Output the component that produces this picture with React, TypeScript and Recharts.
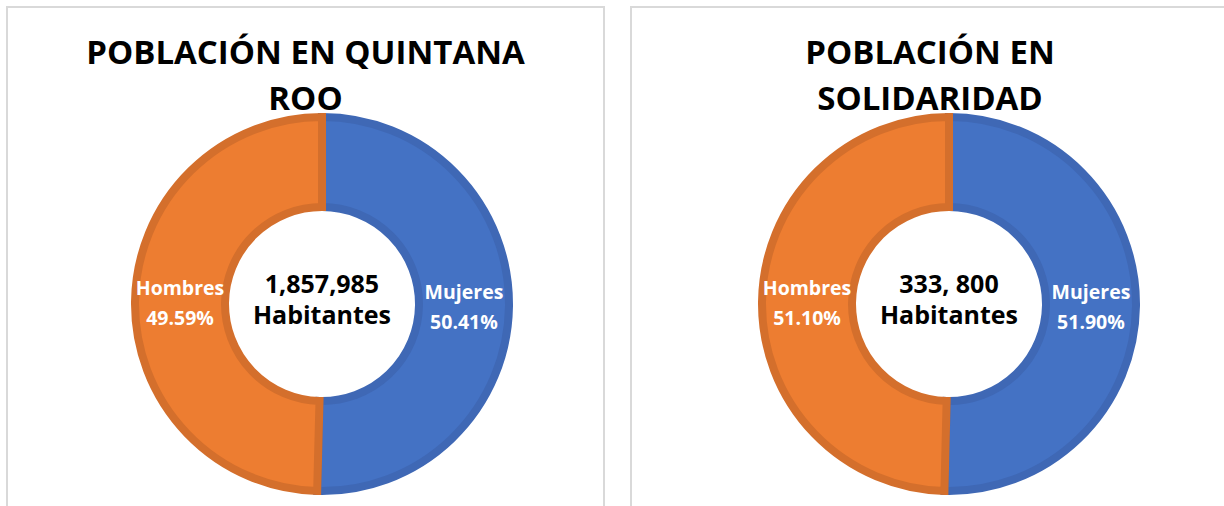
import React from "react";
import { PieChart, Pie, Cell } from "recharts";

const categories = ["Mujeres", "Hombres"];
const qrooValues = [50.41, 49.59];
const qrooLabels = ["50.41%", "49.59%"];
const solValues = [51.9, 51.1];
const solLabels = ["51.90%", "51.10%"];
const qrooTitle = ["POBLACIÓN EN QUINTANA", "ROO"];
const solTitle = ["POBLACIÓN EN", "SOLIDARIDAD"];
const qrooCenter = ["1,857,985", "Habitantes"];
const solCenter = ["333, 800", "Habitantes"];

const fills = ["#4472C4", "#ED7D31"];
const strokes = ["#3F68B5", "#D46F2C"];
const FONT = "'Open Sans', sans-serif";

type PanelProps = {
  left: number;
  width: number;
  cx: number;
  cy: number;
  title: string[];
  values: number[];
  labels: string[];
  center: string[];
};

const RADIAN = Math.PI / 180;

function Panel({ left, width, cx, cy, title, values, labels, center }: PanelProps) {
  const data = categories.map((c, i) => ({ name: c, value: values[i], pct: labels[i] }));
  const renderLabel = (props: any) => {
    const { cx: x0, cy: y0, midAngle, innerRadius, outerRadius, index } = props;
    const r = (innerRadius + outerRadius) / 2;
    const x = x0 + r * Math.cos(-midAngle * RADIAN);
    const y = y0 + r * Math.sin(-midAngle * RADIAN);
    return (
      <text
        x={x}
        y={y}
        fill="#FFFFFF"
        textAnchor="middle"
        fontFamily={FONT}
        fontWeight={700}
        fontSize={19.5}
      >
        <tspan x={x} dy={-7}>{data[index].name}</tspan>
        <tspan x={x} dy={30}>{data[index].pct}</tspan>
      </text>
    );
  };
  return (
    <div
      style={{
        position: "absolute",
        left,
        top: 6,
        width,
        height: 520,
        border: "2px solid #D9D9D9",
        boxSizing: "border-box",
        background: "#FFFFFF",
      }}
    >
      <div
        style={{
          position: "absolute",
          left: 0,
          top: 21,
          width: "100%",
          textAlign: "center",
          fontFamily: FONT,
          fontWeight: 700,
          fontSize: 33,
          lineHeight: "46px",
          color: "#000000",
          zIndex: 2,
        }}
      >
        {title.map((t, i) => (
          <div key={i}>{t}</div>
        ))}
      </div>
      <div style={{ position: "absolute", left: -2, top: -8 }}>
        <PieChart width={width} height={520} margin={{ top: 0, right: 0, bottom: 0, left: 0 }}>
          <Pie
            data={data}
            dataKey="value"
            cx={cx}
            cy={cy}
            innerRadius={97}
            outerRadius={187}
            startAngle={90}
            endAngle={-270}
            isAnimationActive={false}
            labelLine={false}
            label={renderLabel}
          >
            {data.map((d, i) => (
              <Cell key={d.name} fill={fills[i]} stroke={strokes[i]} strokeWidth={8} />
            ))}
          </Pie>
        </PieChart>
      </div>
      <div
        style={{
          position: "absolute",
          left: cx - 2 - 90,
          top: cy - 8 - 36,
          width: 180,
          textAlign: "center",
          fontFamily: FONT,
          fontWeight: 700,
          fontSize: 25,
          lineHeight: "31px",
          color: "#000000",
        }}
      >
        {center.map((t, i) => (
          <div key={i}>{t}</div>
        ))}
      </div>
    </div>
  );
}

export default function App() {
  return (
    <div
      style={{
        position: "absolute",
        left: 0,
        top: 0,
        width: 1224,
        height: 506,
        overflow: "hidden",
        background: "#FFFFFF",
      }}
    >
      <Panel left={6} width={599} cx={316} cy={304} title={qrooTitle} values={qrooValues} labels={qrooLabels} center={qrooCenter} />
      <Panel left={630} width={600} cx={319} cy={304} title={solTitle} values={solValues} labels={solLabels} center={solCenter} />
    </div>
  );
}
